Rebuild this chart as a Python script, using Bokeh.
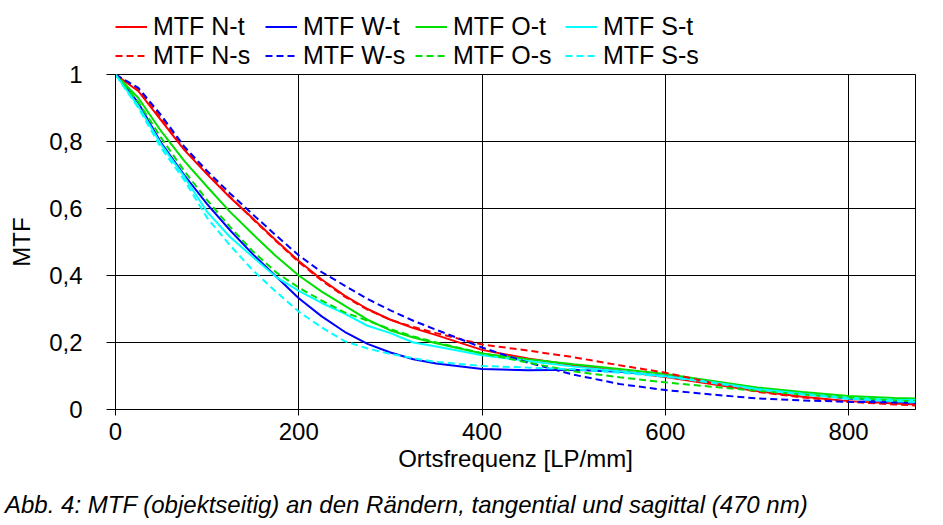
from bokeh.plotting import figure
from bokeh.layouts import column
from bokeh.models import Range1d, FixedTicker, Legend, LegendItem, Div, CustomJSTickFormatter
from bokeh.embed import file_html
from bokeh.resources import INLINE

# ---------------- data ----------------
freq = [0, 25, 50, 75, 100, 125, 150, 175, 200, 225, 250, 275, 300, 325, 350,
        400, 450, 500, 550, 600, 650, 700, 750, 800, 850, 873]

mtf_n_t = [1.000, 0.950, 0.862, 0.775, 0.702, 0.633, 0.570, 0.505, 0.443, 0.388, 0.340,
           0.300, 0.268, 0.243, 0.222, 0.178, 0.152, 0.132, 0.115, 0.097, 0.076, 0.055,
           0.038, 0.025, 0.018, 0.015]
mtf_w_t = [1.000, 0.915, 0.795, 0.700, 0.613, 0.535, 0.463, 0.398, 0.332, 0.278, 0.232,
           0.196, 0.170, 0.150, 0.137, 0.121, 0.117, 0.119, 0.113, 0.100, 0.083, 0.064,
           0.047, 0.033, 0.024, 0.021]
mtf_o_t = [1.000, 0.930, 0.830, 0.742, 0.665, 0.590, 0.523, 0.458, 0.400, 0.352, 0.310,
           0.268, 0.236, 0.215, 0.198, 0.167, 0.150, 0.135, 0.121, 0.106, 0.086, 0.066,
           0.052, 0.040, 0.034, 0.033]
mtf_s_t = [1.000, 0.905, 0.790, 0.695, 0.590, 0.515, 0.455, 0.396, 0.354, 0.318, 0.286,
           0.250, 0.228, 0.200, 0.188, 0.162, 0.145, 0.128, 0.114, 0.099, 0.082, 0.061,
           0.047, 0.034, 0.029, 0.028]
mtf_n_s = [1.000, 0.955, 0.870, 0.780, 0.705, 0.635, 0.568, 0.503, 0.440, 0.385, 0.337,
           0.298, 0.268, 0.246, 0.228, 0.194, 0.176, 0.156, 0.132, 0.110, 0.080, 0.053,
           0.036, 0.023, 0.015, 0.012]
mtf_w_s = [1.000, 0.960, 0.878, 0.785, 0.712, 0.645, 0.582, 0.520, 0.460, 0.410, 0.370,
           0.330, 0.296, 0.265, 0.238, 0.185, 0.140, 0.104, 0.076, 0.058, 0.045, 0.033,
           0.027, 0.023, 0.021, 0.020]
mtf_o_s = [1.000, 0.918, 0.810, 0.712, 0.625, 0.545, 0.472, 0.410, 0.364, 0.325, 0.290,
           0.265, 0.240, 0.218, 0.200, 0.168, 0.140, 0.114, 0.096, 0.081, 0.068, 0.056,
           0.045, 0.035, 0.027, 0.025]
mtf_s_s = [1.000, 0.900, 0.780, 0.685, 0.572, 0.490, 0.415, 0.352, 0.292, 0.245, 0.204,
           0.182, 0.166, 0.153, 0.142, 0.130, 0.125, 0.120, 0.110, 0.098, 0.080, 0.060,
           0.045, 0.032, 0.025, 0.022]

series_names = ["MTF N-t", "MTF W-t", "MTF O-t", "MTF S-t",
                "MTF N-s", "MTF W-s", "MTF O-s", "MTF S-s"]
series_values = [mtf_n_t, mtf_w_t, mtf_o_t, mtf_s_t,
                 mtf_n_s, mtf_w_s, mtf_o_s, mtf_s_s]
x_ticks = [0, 200, 400, 600, 800]
y_ticks = [0, 0.2, 0.4, 0.6, 0.8, 1.0]
x_title = "Ortsfrequenz [LP/mm]"
y_title = "MTF"
caption = "Abb. 4: MTF (objektseitig) an den Rändern, tangential und sagittal (470 nm)"

# ---------------- styling ----------------
colors = ["#ff0000", "#0000ff", "#00e000", "#00ffff"] * 2
dashes = ["solid"] * 4 + ["7 4"] * 4
FONT = "Liberation Sans"
FS = "24px"
W = 942
TOP = 74
OVERLAP = 14

# ---------------- main chart ----------------
p = figure(width=W, height=OVERLAP + 335 + 79, output_backend="svg", toolbar_location=None,
           x_range=Range1d(0, 873), y_range=Range1d(0, 1),
           min_border_left=115, min_border_right=27, min_border_top=OVERLAP,
           min_border_bottom=79)
p.margin = (-OVERLAP, 0, 0, 0)
p.background_fill_color = "white"
p.border_fill_alpha = 0
p.outline_line_color = "black"
p.outline_line_width = 1

renderers = []
for name, vals, c, d in zip(series_names, series_values, colors, dashes):
    r = p.line(freq, vals, line_color=c, line_width=2, line_dash=d)
    renderers.append(r)

for ax in (p.xaxis[0], p.yaxis[0]):
    ax.axis_line_color = "black"
    ax.major_tick_line_color = "black"
    ax.minor_tick_line_color = None
    ax.major_tick_in = 0
    ax.major_label_text_font = FONT
    ax.major_label_text_font_size = FS
    ax.major_label_text_color = "black"
    ax.axis_label_text_font = FONT
    ax.axis_label_text_font_size = FS
    ax.axis_label_text_font_style = "normal"
    ax.axis_label_text_color = "black"

p.xaxis.ticker = FixedTicker(ticks=x_ticks)
p.yaxis.ticker = FixedTicker(ticks=y_ticks)
p.yaxis.formatter = CustomJSTickFormatter(
    code="var s = (Math.round(tick*10)/10).toString(); return s.replace('.', ',');")
p.xaxis.axis_label = x_title
p.yaxis.axis_label = y_title
p.xaxis.major_tick_out = 6
p.xaxis.major_label_standoff = 7
p.xaxis.axis_label_standoff = 2
p.yaxis.major_tick_out = 9
p.yaxis.major_label_standoff = 24
p.yaxis.axis_label_standoff = 11

p.xgrid.ticker = FixedTicker(ticks=x_ticks)
p.ygrid.ticker = FixedTicker(ticks=y_ticks)
p.xgrid.grid_line_color = "black"
p.ygrid.grid_line_color = "black"

# ---------------- legend strip above the chart ----------------
lf = figure(width=W, height=TOP, output_backend="svg", toolbar_location=None,
            x_range=Range1d(0, 873), y_range=Range1d(0, 1),
            x_axis_type=None, y_axis_type=None, min_border=0)
lf.outline_line_color = None
lf.xgrid.visible = False
lf.ygrid.visible = False
lf.border_fill_color = "white"
lf.background_fill_color = "white"

legend_renderers = []
for vals, c, d in zip(series_values, colors, dashes):
    lr = lf.line(freq, vals, line_color=c, line_width=2, line_dash=d)
    lr.visible = False   # only its legend handle is shown here
    legend_renderers.append(lr)

order = [0, 4, 1, 5, 2, 6, 3, 7]   # column-major fill -> rows N-t.. / N-s..
items = [LegendItem(label=series_names[i], renderers=[legend_renderers[i]]) for i in order]
legend = Legend(items=items, ncols=4, orientation="vertical", location=(0, 4),
                border_line_alpha=0, background_fill_alpha=0, padding=0, margin=0,
                spacing=0, glyph_width=32, glyph_height=25, label_height=25,
                label_width=112, label_standoff=6,
                label_text_font=FONT, label_text_font_size="25px", label_text_color="black")
lf.add_layout(legend)

# ---------------- caption ----------------
cap = Div(text=caption, width=W - 5, height=33, margin=(3, 0, 0, 5),
          styles={"font-family": FONT, "font-size": "24px", "font-style": "italic",
                  "color": "black", "line-height": "28px", "white-space": "nowrap"})

layout = column(lf, p, cap, spacing=0)
open("out.html", "w").write(file_html(layout, INLINE))
